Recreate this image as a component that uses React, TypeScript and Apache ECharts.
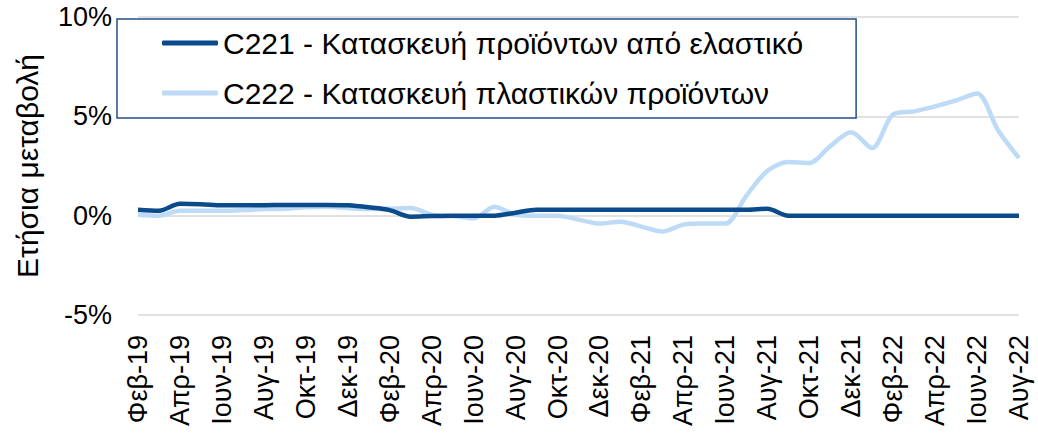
import React, { useEffect, useRef } from "react";
import * as echarts from "echarts";

const months: string[] = [
  "Φεβ-19", "Μαρ-19", "Απρ-19", "Μαϊ-19", "Ιουν-19", "Ιουλ-19", "Αυγ-19", "Σεπ-19", "Οκτ-19", "Νοε-19", "Δεκ-19",
  "Ιαν-20", "Φεβ-20", "Μαρ-20", "Απρ-20", "Μαϊ-20", "Ιουν-20", "Ιουλ-20", "Αυγ-20", "Σεπ-20", "Οκτ-20", "Νοε-20", "Δεκ-20",
  "Ιαν-21", "Φεβ-21", "Μαρ-21", "Απρ-21", "Μαϊ-21", "Ιουν-21", "Ιουλ-21", "Αυγ-21", "Σεπ-21", "Οκτ-21", "Νοε-21", "Δεκ-21",
  "Ιαν-22", "Φεβ-22", "Μαρ-22", "Απρ-22", "Μαϊ-22", "Ιουν-22", "Ιουλ-22", "Αυγ-22",
];

const c221: number[] = [
  0.3, 0.25, 0.6, 0.58, 0.52, 0.52, 0.53, 0.54, 0.54, 0.54, 0.52,
  0.42, 0.28, -0.05, -0.02, 0.0, 0.0, 0.0, 0.15, 0.3, 0.3, 0.3, 0.3,
  0.3, 0.3, 0.3, 0.3, 0.3, 0.3, 0.3, 0.35, 0.0, 0.0, 0.0, 0.0,
  0.0, 0.0, 0.0, 0.0, 0.0, 0.0, 0.0, 0.0,
];

const c222: number[] = [
  0.05, 0.0, 0.25, 0.25, 0.25, 0.28, 0.33, 0.35, 0.42, 0.45, 0.38,
  0.33, 0.35, 0.38, 0.05, -0.02, -0.13, 0.45, 0.05, 0.0, 0.0, -0.2, -0.4,
  -0.3, -0.55, -0.8, -0.45, -0.4, -0.4, 1.0, 2.25, 2.7, 2.65, 3.5, 4.2,
  3.4, 5.1, 5.25, 5.5, 5.8, 6.15, 4.3, 2.9,
];

const seriesNames: string[] = [
  "C221 - Κατασκευή προϊόντων από ελαστικό",
  "C222 - Κατασκευή πλαστικών προϊόντων",
];

const yTicks = { min: -5, max: 10, interval: 5 };
const yName = "Ετήσια μεταβολή";

const FONT = "Liberation Sans";
const DARK = "#0B4A8B";
const LIGHT = "#BDDAF6";

export default function App() {
  const ref = useRef<HTMLDivElement>(null);
  useEffect(() => {
    if (!ref.current) return;
    const chart = echarts.init(ref.current, null, { renderer: "svg" });
    chart.setOption({
      animation: false,
      backgroundColor: "#ffffff",
      textStyle: { fontFamily: FONT },
      grid: { left: 138, right: 19, top: 17, bottom: 121, containLabel: false },
      legend: {
        left: 117,
        top: 19,
        orient: "vertical",
        padding: [7, 53, 8, 45],
        itemGap: 16,
        itemWidth: 56,
        itemHeight: 5,
        icon: "roundRect",
        borderColor: "#1F4E8C",
        borderWidth: 1.5,
        borderRadius: 0,
        backgroundColor: "#ffffff",
        textStyle: { fontFamily: FONT, fontSize: 30, color: "#000", lineHeight: 34 },
        data: seriesNames,
      },
      xAxis: {
        type: "category",
        boundaryGap: false,
        data: months,
        axisLine: { show: false },
        axisTick: { show: false },
        axisLabel: {
          rotate: 90,
          interval: 1,
          margin: 20,
          fontFamily: FONT,
          fontSize: 27,
          color: "#000",
        },
      },
      yAxis: {
        type: "value",
        min: yTicks.min,
        max: yTicks.max,
        interval: yTicks.interval,
        name: yName,
        nameLocation: "middle",
        nameGap: 96,
        nameRotate: 90,
        nameTextStyle: { fontFamily: FONT, fontSize: 30, color: "#000" },
        axisLine: { show: false },
        axisTick: { show: false },
        axisLabel: {
          formatter: "{value}%",
          margin: 26,
          fontFamily: FONT,
          fontSize: 27,
          color: "#000",
        },
        splitLine: { lineStyle: { color: "#d9d9d9", width: 1.5 } },
      },
      series: [
        {
          name: seriesNames[0],
          type: "line",
          data: c221,
          smooth: 0.3,
          symbol: "none",
          lineStyle: { color: DARK, width: 4.5 },
          itemStyle: { color: DARK },
          z: 3,
        },
        {
          name: seriesNames[1],
          type: "line",
          data: c222,
          smooth: 0.3,
          symbol: "none",
          lineStyle: { color: LIGHT, width: 4.5 },
          itemStyle: { color: LIGHT },
          z: 2,
        },
      ],
    });
    return () => chart.dispose();
  }, []);
  return (
    <div
      ref={ref}
      style={{ position: "fixed", left: 0, top: 0, width: 1038, height: 436 }}
    />
  );
}
